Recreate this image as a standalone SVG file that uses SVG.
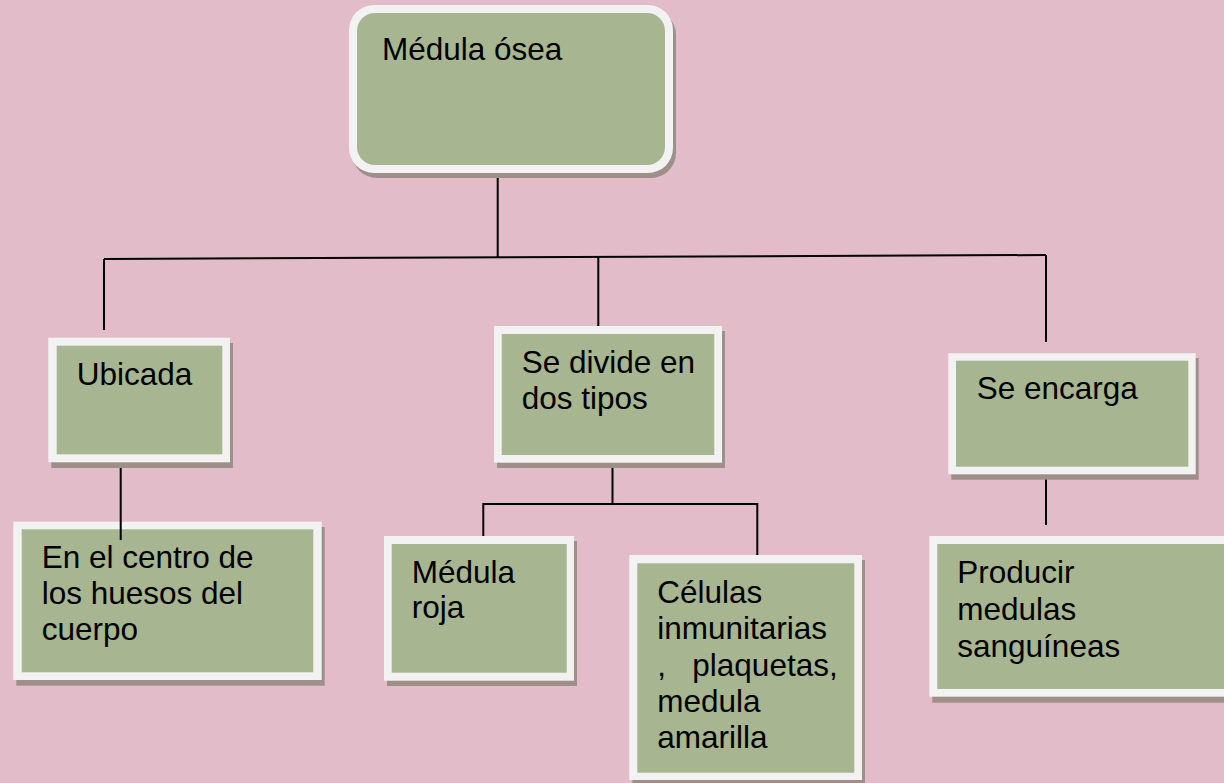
<svg xmlns="http://www.w3.org/2000/svg" width="1224" height="783" viewBox="0 0 1224 783">
<style>
.bg{fill:#e2bcc9}
.sh{fill:#9e9089}
.out{fill:#f2f2f2}
.in{fill:#a7b591}
.t{font-family:"Liberation Sans",Arial,sans-serif;font-size:31.5px;fill:#000}
.c{stroke:#000;stroke-width:2;fill:none}
</style>
<rect class="bg" x="0" y="0" width="1224" height="783"/>
<g id="connectors">
<line class="c" x1="104" y1="259" x2="1046" y2="255"/>
<line class="c" x1="497.7" y1="168" x2="497.7" y2="258"/>
<line class="c" x1="104" y1="259" x2="104" y2="330"/>
<line class="c" x1="598.3" y1="257" x2="598.3" y2="326"/>
<line class="c" x1="1046" y1="255" x2="1046" y2="342"/>
<line class="c" x1="612.5" y1="458" x2="612.5" y2="504"/>
<polyline class="c" points="483.3,540 483.3,504 757.3,504 757.3,559"/>
<line class="c" x1="1046" y1="470" x2="1046" y2="525"/>
</g>
<g id="n-medula-osea">
<rect class="sh" x="352" y="10" width="324" height="168" rx="25"/>
<rect class="out" x="349" y="5" width="324" height="168" rx="25"/>
<rect class="in" x="357" y="13" width="308" height="152" rx="18"/>
<text class="t" x="382" y="60">Médula ósea</text>
</g>
<g id="n-ubicada">
<rect class="sh" x="51.3" y="343" width="181.7" height="125"/>
<rect class="out" x="48.3" y="337.7" width="181.7" height="124.6"/>
<rect class="in" x="56.7" y="345.7" width="165.6" height="108.6"/>
<text class="t" x="76.7" y="385">Ubicada</text>
</g>
<g id="n-se-divide">
<rect class="sh" x="497" y="331" width="228" height="137"/>
<rect class="out" x="494" y="326" width="228" height="136.7"/>
<rect class="in" x="501.7" y="334" width="212.6" height="121"/>
<text class="t" x="521.7" y="373.3">Se divide en</text>
<text class="t" x="521.7" y="409.3">dos tipos</text>
</g>
<g id="n-se-encarga">
<rect class="sh" x="951.3" y="358" width="247.4" height="121.7"/>
<rect class="out" x="948.3" y="353.3" width="247.4" height="121"/>
<rect class="in" x="956" y="360.7" width="232.3" height="106"/>
<text class="t" x="976.7" y="399.3">Se encarga</text>
</g>
<g id="n-centro">
<rect class="sh" x="16.3" y="527" width="308.4" height="158.7"/>
<rect class="out" x="13.3" y="521.7" width="308.4" height="158.3"/>
<rect class="in" x="21.7" y="529.3" width="291.6" height="143"/>
<text class="t" x="41.7" y="568">En el centro de</text>
<text class="t" x="41.7" y="604">los huesos del</text>
<text class="t" x="41.7" y="640">cuerpo</text>
</g>
<line class="c" x1="120.7" y1="468" x2="120.7" y2="540"/>
<g id="n-medula-roja">
<rect class="sh" x="387" y="541" width="190" height="145"/>
<rect class="out" x="384" y="536" width="190" height="144.7"/>
<rect class="in" x="391.7" y="544" width="175" height="128.7"/>
<text class="t" x="411.7" y="582.7">Médula</text>
<text class="t" x="411.7" y="618.3">roja</text>
</g>
<g id="n-celulas">
<rect class="sh" x="632.3" y="560" width="232.7" height="228"/>
<rect class="out" x="629.3" y="555" width="232.7" height="225"/>
<rect class="in" x="637.3" y="563.3" width="217" height="209.4"/>
<text class="t" x="657.3" y="602.7">Células</text>
<text class="t" x="657.3" y="639">inmunitarias</text>
<text class="t" x="657.3" y="675.5" xml:space="preserve" style="white-space:pre">,   plaquetas,</text>
<text class="t" x="657.3" y="712">medula</text>
<text class="t" x="657.3" y="748.3">amarilla</text>
</g>
<g id="n-producir">
<rect class="sh" x="932.3" y="541" width="300" height="161.7"/>
<rect class="out" x="929.3" y="536" width="300" height="160.7"/>
<rect class="in" x="937.3" y="544" width="290" height="145"/>
<text class="t" x="957.3" y="583.3">Producir</text>
<text class="t" x="957.3" y="620">medulas</text>
<text class="t" x="957.3" y="656.7">sanguíneas</text>
</g>
</svg>
